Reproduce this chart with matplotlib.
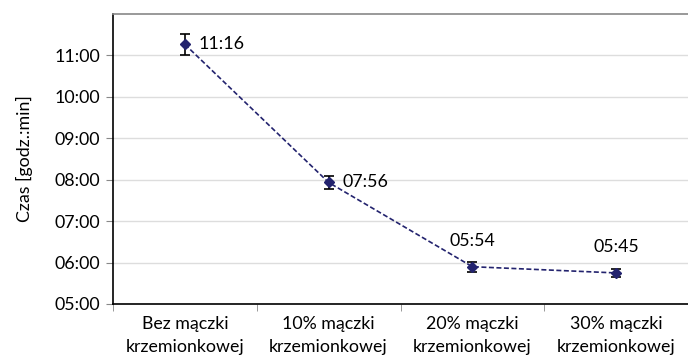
import matplotlib.pyplot as plt

categories = ["Bez mączki\nkrzemionkowej", "10% mączki\nkrzemionkowej",
              "20% mączki\nkrzemionkowej", "30% mączki\nkrzemionkowej"]
times = [11 + 16 / 60., 7 + 56 / 60., 5 + 54 / 60., 5 + 45 / 60.]
errors = [15 / 60., 9 / 60., 7 / 60., 6 / 60.]
point_labels = ["11:16", "07:56", "05:54", "05:45"]
yticks = [5, 6, 7, 8, 9, 10, 11]
ytick_labels = ["05:00", "06:00", "07:00", "08:00", "09:00", "10:00", "11:00"]

plt.rcParams['font.family'] = ['Lato', 'DejaVu Sans']
color = "#23236E"
fs = 12.8

fig = plt.figure(figsize=(6.88, 3.63), dpi=100)
ax = fig.add_axes([113 / 688., 1 - 304 / 363., 575 / 688., 290 / 363.])

x = list(range(len(categories)))
ax.plot(x, times, linestyle=(0, (3, 1.5)), color=color, linewidth=1.2, zorder=3)
ax.errorbar(x, times, yerr=errors, fmt="none", ecolor="black", elinewidth=1.2,
            capsize=3.5, capthick=1.2, zorder=4)
ax.plot(x, times, linestyle="none", marker="D", markersize=5, color=color, zorder=5)

offsets = [(10, 0, "left", "center"), (10, 0, "left", "center"),
           (0, 13, "center", "bottom"), (0, 13, "center", "bottom")]
for i in range(len(x)):
    dx, dy, ha, va = offsets[i]
    ax.annotate(point_labels[i], (x[i], times[i]), xytext=(dx, dy),
                textcoords="offset points", ha=ha, va=va, fontsize=fs)

ax.set_xlim(-0.5, 3.5)
ax.set_ylim(5, 12)
ax.set_yticks(yticks)
ax.set_yticklabels(ytick_labels, fontsize=fs)
ax.set_xticks(x)
ax.set_xticklabels(categories, fontsize=fs, linespacing=1.5)
ax.set_xticks([-0.5, 0.5, 1.5, 2.5, 3.5], minor=True)
ax.tick_params(axis="x", which="major", length=0, pad=9)
ax.tick_params(axis="x", which="minor", length=5, color="#888888")
ax.tick_params(axis="y", length=5, color="#888888", pad=4)
ax.grid(axis="y", color="#DDDDDD", linewidth=1)
ax.set_axisbelow(True)
for s in ["left", "bottom"]:
    ax.spines[s].set_color("black")
    ax.spines[s].set_linewidth(1.2)
ax.spines["top"].set_color("#888888")
ax.spines["top"].set_linewidth(1.2)
ax.spines["right"].set_visible(False)

ax.set_ylabel("Czas [godz.:min]", fontsize=fs, labelpad=16)

fig.savefig("out.png", dpi=100)
